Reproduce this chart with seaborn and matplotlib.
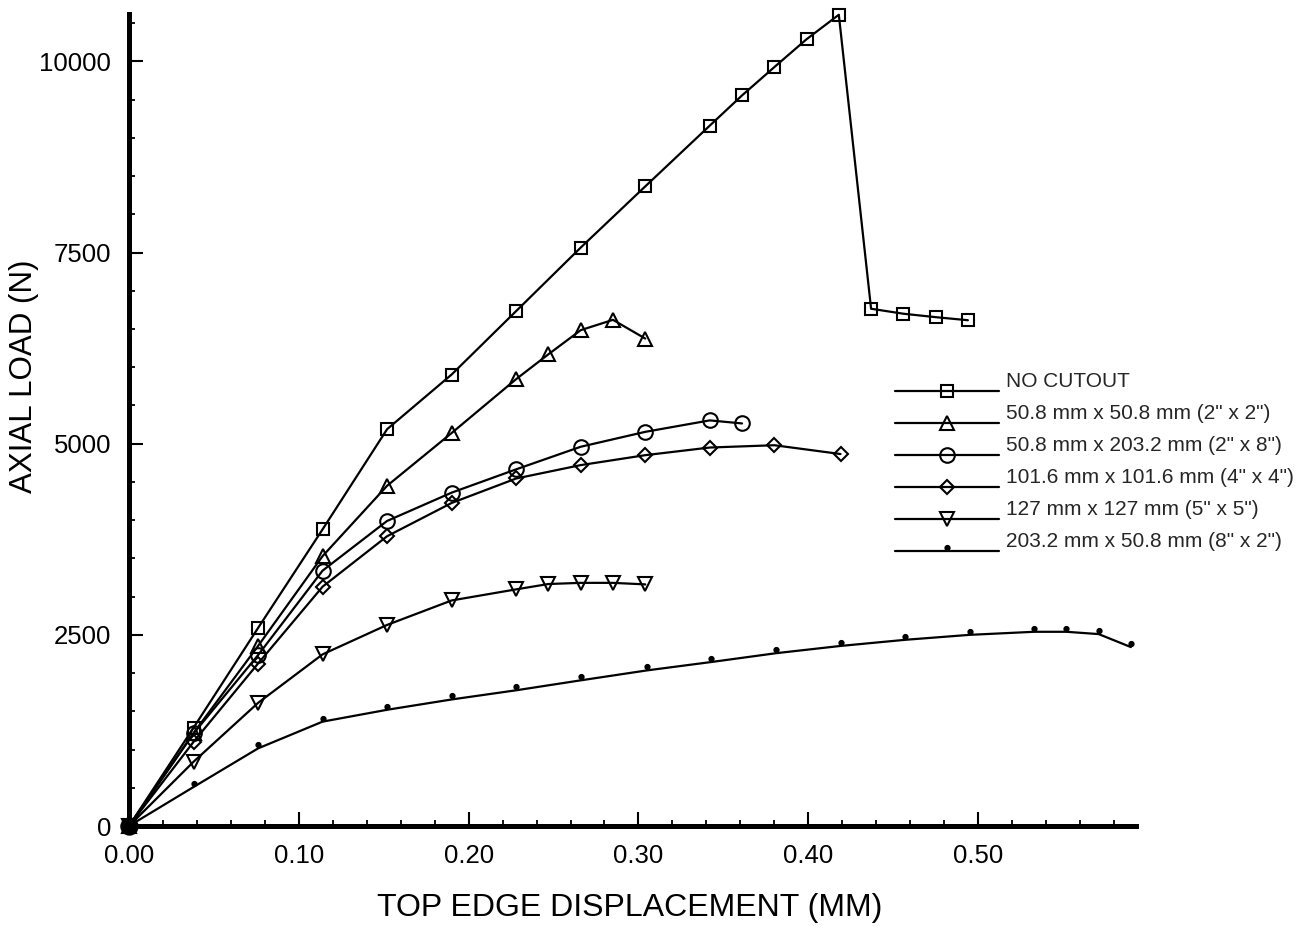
import numpy as np
import matplotlib
matplotlib.use("Agg")
import matplotlib.pyplot as plt
import seaborn as sns
from matplotlib.path import Path
from matplotlib.legend_handler import HandlerLine2D
from matplotlib.ticker import MultipleLocator

# ---- data ----
labels = ["NO CUTOUT",
          '50.8 mm x 50.8 mm (2" x 2")',
          '50.8 mm x 203.2 mm (2" x 8")',
          '101.6 mm x 101.6 mm (4" x 4")',
          '127 mm x 127 mm (5" x 5")',
          '203.2 mm x 50.8 mm (8" x 2")']

x_nocut = [0, 0.038, 0.076, 0.114, 0.152, 0.190, 0.228, 0.266, 0.304, 0.342, 0.361,
           0.380, 0.399, 0.418, 0.437, 0.456, 0.475, 0.494]
y_nocut = [0, 1285, 2590, 3880, 5190, 5905, 6735, 7565, 8365, 9160, 9555,
           9925, 10290, 10610, 6765, 6700, 6655, 6615]

x_2x2 = [0, 0.038, 0.076, 0.114, 0.152, 0.190, 0.228, 0.247, 0.266, 0.285, 0.304]
y_2x2 = [0, 1215, 2355, 3530, 4450, 5140, 5845, 6170, 6485, 6620, 6375]

x_2x8 = [0, 0.038, 0.076, 0.114, 0.152, 0.190, 0.228, 0.266, 0.304, 0.342, 0.361]
y_2x8 = [0, 1210, 2235, 3340, 3990, 4360, 4665, 4960, 5155, 5305, 5265]

x_4x4 = [0, 0.038, 0.076, 0.114, 0.152, 0.190, 0.228, 0.266, 0.304, 0.342, 0.380, 0.419]
y_4x4 = [0, 1100, 2125, 3130, 3790, 4225, 4545, 4720, 4850, 4950, 4980, 4865]

x_5x5 = [0, 0.038, 0.076, 0.114, 0.152, 0.190, 0.228, 0.247, 0.266, 0.285, 0.304]
y_5x5 = [0, 840, 1610, 2245, 2630, 2950, 3095, 3165, 3180, 3180, 3160]

x_8x2 = [0, 0.038, 0.076, 0.114, 0.152, 0.190, 0.228, 0.266, 0.305, 0.343, 0.381,
         0.419, 0.457, 0.495, 0.533, 0.552, 0.571, 0.590]
y_8x2 = [0, 510, 1015, 1365, 1520, 1655, 1775, 1905, 2035, 2145, 2260,
         2355, 2435, 2500, 2540, 2540, 2510, 2340]

x_ticks = [0.0, 0.1, 0.2, 0.3, 0.4, 0.5]
x_ticklabels = ["0.00", "0.10", "0.20", "0.30", "0.40", "0.50"]
y_ticks = [0, 2500, 5000, 7500, 10000]

# ---- style ----
sns.set_theme(style="ticks")
plt.rcParams["font.family"] = ["Liberation Sans", "DejaVu Sans"]

fig = plt.figure(figsize=(13.07, 9.26), dpi=100)
ax = fig.add_axes([129 / 1307, 1 - 826 / 926, 1007 / 1307, 812 / 926])

# small dot drawn slightly above the data point (as in the scanned original)
dot_path = Path.circle(center=(0, 0.5), radius=0.3)

series = [
    (x_nocut, y_nocut, dict(marker="s", markersize=8.5)),
    (x_2x2, y_2x2, dict(marker="^", markersize=9.5)),
    (x_2x8, y_2x8, dict(marker="o", markersize=10.5)),
    (x_4x4, y_4x4, dict(marker="D", markersize=7.5)),
    (x_5x5, y_5x5, dict(marker="v", markersize=9.5)),
    (x_8x2, y_8x2, dict(marker=dot_path, markersize=8, markerfacecolor="black")),
]

for (xs, ys, mk), lab in zip(series, labels):
    kw = dict(color="black", linewidth=1.6, markeredgecolor="black",
              markeredgewidth=1.5, markerfacecolor="none")
    kw.update(mk)
    sns.lineplot(x=xs, y=ys, ax=ax, sort=False, label=lab, clip_on=False,
                 estimator=None, **kw)

# origin blob
ax.scatter([x_nocut[0]], [y_nocut[0]], s=150, color="black", zorder=5, clip_on=False)

ax.set_xlim(0, 0.593)
ax.set_ylim(0, 10620)
ax.set_xticks(x_ticks)
ax.set_xticklabels(x_ticklabels)
ax.set_yticks(y_ticks)
ax.xaxis.set_minor_locator(MultipleLocator(0.02))
ax.yaxis.set_minor_locator(MultipleLocator(500))

for s in ["top", "right"]:
    ax.spines[s].set_visible(False)
for s in ["left", "bottom"]:
    ax.spines[s].set_linewidth(3.6)
    ax.spines[s].set_color("black")

ax.tick_params(axis="both", which="major", direction="in", length=10, width=1.5,
               labelsize=18.5, pad=13, colors="black")
ax.tick_params(axis="both", which="minor", direction="in", length=4, width=1.3,
               colors="black")

ax.set_xlabel("TOP EDGE DISPLACEMENT (MM)", fontsize=23, color="black")
ax.set_ylabel("AXIAL LOAD (N)", fontsize=22.5, color="black")
ax.xaxis.set_label_coords(0.4975, -0.083)
ax.yaxis.set_label_coords(-0.089, 0.554)
ax.grid(False)


class ShiftedLine(HandlerLine2D):
    def create_artists(self, legend, orig_handle, xdescent, ydescent, width,
                       height, fontsize, trans):
        arts = super().create_artists(legend, orig_handle, xdescent, ydescent,
                                      width, height, fontsize, trans)
        for a in arts:
            a.set_ydata(np.asarray(a.get_ydata(), dtype=float) - 0.55 * fontsize)
        return arts


handles, labs = ax.get_legend_handles_labels()
leg = ax.legend(handles, labs, loc="upper left",
                bbox_to_anchor=(895 / 1307, 1 - 372 / 926),
                bbox_transform=fig.transFigure, frameon=False, fontsize=15,
                handlelength=5.0, handletextpad=0.35, labelspacing=0.62,
                borderpad=0, borderaxespad=0, numpoints=1,
                handler_map={h: ShiftedLine() for h in handles})

fig.savefig("out.png", dpi=100)
